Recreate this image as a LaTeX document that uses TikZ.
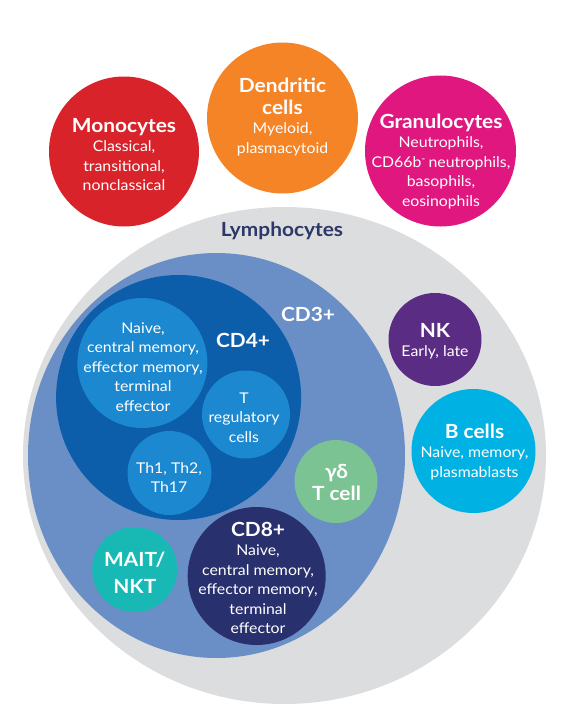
\documentclass[tikz,border=0pt]{standalone}
\usepackage{fontspec}
\setmainfont{Lato}[FakeStretch=1.07]
\usepackage{tikz}
\usetikzlibrary{positioning,shapes.geometric}
\definecolor{mono}{HTML}{D8232A}
\definecolor{dend}{HTML}{F58426}
\definecolor{gran}{HTML}{E0177E}
\definecolor{lgrey}{HTML}{DCDDDF}
\definecolor{cdthree}{HTML}{6A8FC6}
\definecolor{cdfour}{HTML}{0C5DAA}
\definecolor{sub}{HTML}{1B88CF}
\definecolor{nk}{HTML}{5B2C83}
\definecolor{bcell}{HTML}{00B2E3}
\definecolor{gd}{HTML}{7CC393}
\definecolor{cdeight}{HTML}{29306E}
\definecolor{mait}{HTML}{18B9B5}
\definecolor{ink}{HTML}{2D3768}
\newcommand{\cellhd}{\bfseries\fontsize{19.5}{22}\selectfont}
\newcommand{\cellsub}{\fontsize{14.8}{19.5}\selectfont}

\begin{document}
\begin{tikzpicture}[x=1pt, y=-1pt,
  c/.style={circle, inner sep=0pt, minimum size=#1},
  el/.style={ellipse, inner sep=0pt},
  t/.style={text=white, align=center, font=\cellsub, inner sep=0pt}]
\useasboundingbox (0,0) rectangle (570,721);
\node[el, fill=lgrey, minimum width=523, minimum height=497] (lym) at (284.5,455.5) {};
\node[el, fill=cdthree, minimum width=377, minimum height=405] (cd3) at (216.5,455.5) {};
\node[c=245, fill=cdfour] (cd4) at (178.6,397.5) {};
\node[c=130, fill=sub] (naive) at (142.4,363) {};
\node[c=88, fill=sub] (treg) at (246,414.5) {};
\node[c=84, fill=sub] (th) at (169.5,473) {};
\node[c=83, fill=gd] (gd) at (336,481.5) {};
\node[c=138, fill=cdeight] (cd8) at (256.7,576) {};
\node[c=85, fill=mait] (mait) at (134.7,569.5) {};
\node[c=93, fill=nk] (nk) at (435,339.5) {};
\node[c=124, fill=bcell] (bc) at (473.5,451) {};
\node[c=150, fill=mono] (mono) at (124,151.5) {};
\node[c=151, fill=dend] (dend) at (282.5,118) {};
\node[c=151, fill=gran] (gran) at (440.5,151) {};

\node[t] (monot) at (124,154.5) {{\cellhd Monocytes}\\ Classical,\\ transitional,\\ nonclassical};
\node[t] (dendt) at (282.5,117) {{\cellhd Dendritic}\\[2.5pt] {\cellhd cells}\\ Myeloid,\\ plasmacytoid};
\node[t] (grant) at (441,161.5) {{\cellhd Granulocytes}\\ Neutrophils,\\ CD66b\textsuperscript{-}\,neutrophils,\\ basophils,\\ eosinophils};
\node[t, text=ink, font=\cellhd, anchor=base] (lymt) at (282,236.7) {Lymphocytes};
\node[t, font=\cellhd, anchor=base] (cd3t) at (308,321) {CD3+};
\node[t, font=\cellhd, anchor=base] (cd4t) at (243,347) {CD4+};
\node[t] (naivet) at (143,366.8) {Naive,\\ central memory,\\ effector memory,\\ terminal\\ effector};
\node[t] (tregt) at (244,417.6) {T\\ regulatory\\ cells};
\node[t] (tht) at (169,477.5) {Th1, Th2,\\ Th17};
\node[t] (nkt) at (435,341.4) {{\cellhd NK}\\ Early, late};
\node[t] (bct) at (474.5,452) {{\cellhd B cells}\\ Naive, memory,\\ plasmablasts};
\node[t, font=\cellhd] (gdt) at (336.5,482.5) {γδ\\ T cell};
\node[t] (cd8t) at (258,578) {{\cellhd CD8+}\\ Naive,\\ central memory,\\ effector memory,\\ terminal\\ effector};
\node[t, font=\cellhd] (maitt) at (134.8,572.7) {MAIT/\\[5.5pt] NKT};
\end{tikzpicture}
\end{document}
